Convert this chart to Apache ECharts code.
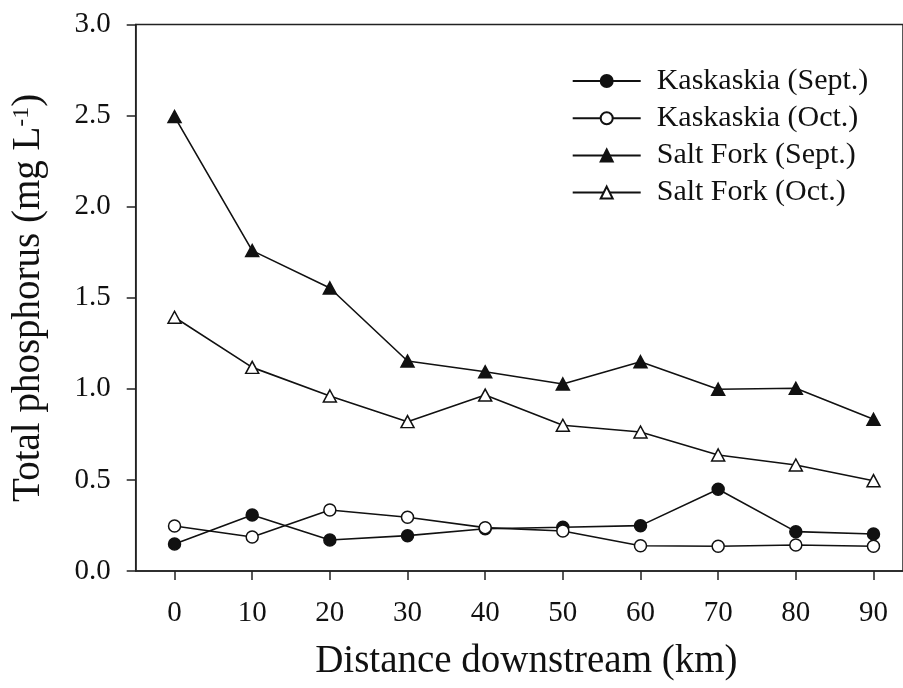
<!DOCTYPE html>
<html>
<head>
<meta charset="utf-8">
<script src="https://cdn.jsdelivr.net/npm/echarts@6/dist/echarts.min.js"></script>
<style>
html,body{margin:0;padding:0;background:#fff;}
#c{width:903px;height:688px;}
</style>
</head>
<body>
<div id="c"></div>
<script>
var distance = [0, 10, 20, 30, 40, 50, 60, 70, 80, 90];
var xTicks = [0, 10, 20, 30, 40, 50, 60, 70, 80, 90];
var kaskaskiaSept = [0.148, 0.308, 0.170, 0.194, 0.232, 0.240, 0.249, 0.449, 0.216, 0.203];
var kaskaskiaOct  = [0.247, 0.187, 0.335, 0.295, 0.238, 0.220, 0.139, 0.136, 0.143, 0.136];
var saltForkSept  = [2.495, 1.759, 1.554, 1.153, 1.094, 1.027, 1.149, 0.998, 1.003, 0.833];
var saltForkOct   = [1.393, 1.118, 0.961, 0.820, 0.966, 0.800, 0.763, 0.637, 0.582, 0.496];
var seriesNames = ['Kaskaskia (Sept.)', 'Kaskaskia (Oct.)', 'Salt Fork (Sept.)', 'Salt Fork (Oct.)'];

function pairs(vals){ return distance.map(function(d,i){ return [d, vals[i]]; }); }

var FONT = '"Liberation Serif","Times New Roman",serif';
var INK = '#111';

function mk(name, vals, symbol, filled, size){
  return {
    name: name, type: 'line', data: pairs(vals),
    symbol: symbol, symbolSize: size, showSymbol: true,
    lineStyle: {color: INK, width: 1.6},
    itemStyle: {color: filled ? INK : '#fff', borderColor: INK, borderWidth: 1.5, opacity: 1},
    emphasis: {disabled: true},
    z: 2
  };
}

var chart = echarts.init(document.getElementById('c'), null, {renderer: 'canvas'});
chart.setOption({
  animation: false,
  backgroundColor: '#fff',
  grid: {left: 135.7, top: 24.6, bottom: 117, right: 0, show: true, borderColor: '#222', borderWidth: 1.5, backgroundColor: 'transparent'},
  legend: {
    left: 566.7, top: 61, orient: 'vertical',
    itemWidth: 68, itemHeight: 15, itemGap: 7.2,
    data: seriesNames,
    textStyle: {fontFamily: FONT, fontSize: 30, color: INK, lineHeight: 30, padding: [0,0,0,11]},
    selectedMode: false
  },
  xAxis: {
    type: 'value', min: -5, max: 93.8,
    name: 'Distance downstream (km)', nameLocation: 'middle', nameGap: 71,
    nameTextStyle: {fontFamily: FONT, fontSize: 39, color: INK, padding: [0,0,0,14]},
    axisLine: {show: true, onZero: false, lineStyle: {color: '#222', width: 1.5}},
    axisTick: {show: true, inside: false, length: 9, customValues: xTicks, lineStyle: {color: '#222', width: 1.5}},
    axisLabel: {customValues: xTicks, margin: 28, fontFamily: FONT, fontSize: 29, color: INK},
    splitLine: {show: false}
  },
  yAxis: {
    type: 'value', min: 0, max: 3, interval: 0.5,
    name: 'Total phosphorus (mg L{sup|-1})', nameLocation: 'middle', nameGap: 87,
    nameTextStyle: {fontFamily: FONT, fontSize: 39, color: INK, lineHeight: 39,
      rich: {sup: {fontFamily: FONT, fontSize: 24, color: INK, verticalAlign: 'top', lineHeight: 39}}},
    axisLine: {show: true, onZero: false, lineStyle: {color: '#222', width: 1.5}},
    axisTick: {show: true, inside: false, length: 9, lineStyle: {color: '#222', width: 1.5}},
    axisLabel: {margin: 25, fontFamily: FONT, fontSize: 29, color: INK, formatter: function(v){ return v.toFixed(1); }},
    splitLine: {show: false}
  },
  series: [
    mk(seriesNames[0], kaskaskiaSept, 'circle', true, 12),
    mk(seriesNames[1], kaskaskiaOct, 'circle', false, 12),
    mk(seriesNames[2], saltForkSept, 'triangle', true, [13, 12]),
    mk(seriesNames[3], saltForkOct, 'triangle', false, [13, 12])
  ]
});
</script>
</body>
</html>
